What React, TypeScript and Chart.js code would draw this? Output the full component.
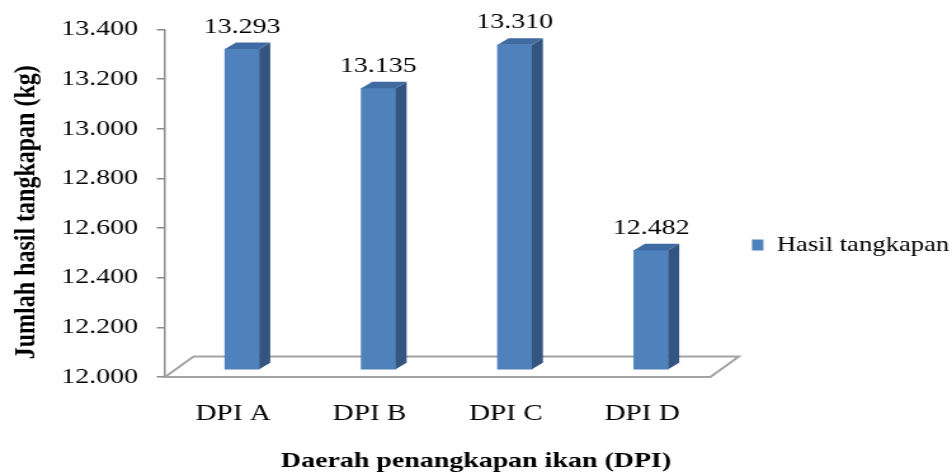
import React, { useEffect, useRef } from 'react';
import { Chart, registerables } from 'chart.js';

Chart.register(...registerables);

// ---- data ----
const categories = ['DPI A', 'DPI B', 'DPI C', 'DPI D'];
const catchValues = [13293, 13135, 13310, 12482];
const seriesName = 'Hasil tangkapan';
const yMin = 12000;
const yMax = 13400;
const yStep = 200;
const yTitle = 'Jumlah hasil tangkapan (kg)   ';
const xTitle = 'Daerah penangkapan ikan (DPI)';

// ---- style ----
const FONT = "'Liberation Serif', 'Times New Roman', serif";
const FRONT = '#4F81BD';
const SIDE = '#33557F';
const TOP = '#3F6BA2';
const CANVAS_W = 750; // drawn narrower, then stretched to 952 like the original picture
const CANVAS_H = 475;
const SHIFT_X = 7;
const SHIFT_Y = 7;
const DEPTH_X = 8.7;
const DEPTH_Y = 6.5;
const FLOOR_DX = 22.5;
const FLOOR_DY = 20.5;

const fmt = (v: number) => {
  const s = Math.round(v).toString();
  return s.slice(0, -3) + '.' + s.slice(-3);
};

const bar3d = {
  id: 'bar3d',
  afterDatasetsUpdate(chart: any) {
    const meta = chart.getDatasetMeta(0);
    meta.data.forEach((el: any) => {
      el.x += SHIFT_X;
      el.y -= SHIFT_Y;
      el.base -= SHIFT_Y;
    });
  },
  beforeDatasetsDraw(chart: any) {
    const { ctx, chartArea: a } = chart;
    ctx.save();
    ctx.strokeStyle = '#A3A3A3';
    ctx.lineWidth = 2;
    ctx.beginPath();
    ctx.moveTo(a.left, a.bottom);
    ctx.lineTo(a.right, a.bottom);
    ctx.lineTo(a.right + FLOOR_DX, a.bottom - FLOOR_DY);
    ctx.lineTo(a.left + FLOOR_DX, a.bottom - FLOOR_DY);
    ctx.closePath();
    ctx.stroke();
    ctx.restore();
  },
  afterDatasetsDraw(chart: any) {
    const { ctx } = chart;
    const meta = chart.getDatasetMeta(0);
    const values = chart.data.datasets[0].data as number[];
    ctx.save();
    meta.data.forEach((el: any, i: number) => {
      const l = el.x - el.width / 2;
      const r = el.x + el.width / 2;
      const t = el.y;
      const b = el.base;
      // side face
      ctx.fillStyle = SIDE;
      ctx.beginPath();
      ctx.moveTo(r, t);
      ctx.lineTo(r + DEPTH_X, t - DEPTH_Y);
      ctx.lineTo(r + DEPTH_X, b - DEPTH_Y);
      ctx.lineTo(r, b);
      ctx.closePath();
      ctx.fill();
      // top face
      ctx.fillStyle = TOP;
      ctx.beginPath();
      ctx.moveTo(l, t);
      ctx.lineTo(l + DEPTH_X, t - DEPTH_Y);
      ctx.lineTo(r + DEPTH_X, t - DEPTH_Y);
      ctx.lineTo(r, t);
      ctx.closePath();
      ctx.fill();
      // value label
      ctx.fillStyle = '#000';
      ctx.font = `22px ${FONT}`;
      ctx.textAlign = 'center';
      ctx.textBaseline = 'alphabetic';
      ctx.fillText(fmt(values[i]), el.x, t - 16.5);
    });
    ctx.restore();
  },
};

export default function App() {
  const ref = useRef<HTMLCanvasElement | null>(null);

  useEffect(() => {
    if (!ref.current) return;
    const chart = new Chart(ref.current, {
      type: 'bar',
      data: {
        labels: categories,
        datasets: [
          {
            label: seriesName,
            data: catchValues,
            base: yMin,
            backgroundColor: FRONT,
            borderColor: FRONT,
            borderWidth: 0,
            barThickness: 27,
          },
        ],
      },
      options: {
        responsive: false,
        devicePixelRatio: 1,
        animation: false,
        events: [],
        layout: { padding: { top: 29.5, left: 0, right: 0, bottom: 0 } },
        plugins: {
          tooltip: { enabled: false },
          legend: {
            position: 'right',
            fullSize: false,
            align: 'center',
            maxWidth: 190.4,
            title: { display: true, text: ' ', padding: { top: 71.5, bottom: 0 }, font: { size: 10 } },
            labels: {
              boxWidth: 9,
              boxHeight: 11,
              padding: 32.8,
              color: '#000',
              font: { family: FONT, size: 21 },
            },
          },
          title: {
            display: true,
            position: 'bottom',
            text: xTitle,
            color: '#000',
            font: { family: FONT, size: 22, weight: 'bold' },
            padding: { top: 0, bottom: 0.8 },
          },
        },
        scales: {
          x: {
            grid: { display: false, drawTicks: false },
            border: { display: false },
            ticks: { color: '#000', font: { family: FONT, size: 23 }, padding: 23 },
            afterFit: (s: any) => {
              s.height = 70.8;
            },
          },
          y: {
            min: yMin,
            max: yMax,
            ticks: {
              stepSize: yStep,
              color: '#000',
              font: { family: FONT, size: 22 },
              padding: 14.8,
              callback: (v: any) => fmt(Number(v)),
            },
            grid: { drawOnChartArea: false, drawTicks: true, tickLength: 6.5, color: '#8C8C8C', lineWidth: 1.5 },
            border: { display: true, color: '#8C8C8C', width: 1.5 },
            title: {
              display: true,
              text: yTitle,
              color: '#000',
              font: { family: FONT, size: 24, weight: 'bold' },
              padding: { top: 6, bottom: 0 },
            },
            afterFit: (s: any) => {
              s.width = 130;
            },
          },
        },
      },
      plugins: [bar3d],
    } as any);
    return () => chart.destroy();
  }, []);

  return (
    <div style={{ position: 'fixed', left: 0, top: 0, width: 952, height: CANVAS_H, background: '#fff' }}>
      <canvas
        ref={ref}
        width={CANVAS_W}
        height={CANVAS_H}
        style={{ width: '952px', height: `${CANVAS_H}px`, display: 'block' }}
      />
    </div>
  );
}
